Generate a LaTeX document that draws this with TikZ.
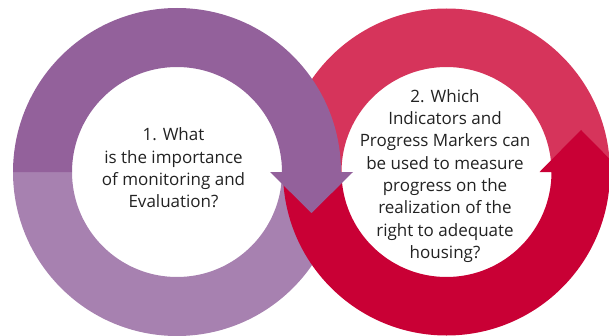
\documentclass[tikz,border=0pt]{standalone}
\usepackage{fontspec}
\setmainfont{Open Sans}
\usetikzlibrary{calc}
\definecolor{darkpurple}{HTML}{93619B}
\definecolor{lightpurple}{HTML}{A781B0}
\definecolor{lightred}{HTML}{D6345B}
\definecolor{darkred}{HTML}{C90035}
\definecolor{textgray}{HTML}{222222}
\tikzset{
  question/.style={
      align=center,
      text=textgray,
      font=\fontsize{17}{22.3}\selectfont,
  }
}

\begin{document}
\begin{tikzpicture}[x=1pt,y=1pt]
	\useasboundingbox (0,0) rectangle (609,335);
	\clip (0,0) rectangle (609,335);
	\coordinate (lc) at (177,163);
	\coordinate (rc) at (446.5,163);
	% left ring, lower half
	\fill[lightpurple] ($(lc)+(-164,0)$) arc[start angle=180,end angle=360,radius=164]
		-- ($(lc)+(105,0)$) arc[start angle=360,end angle=180,radius=105] -- cycle;
	% right ring, upper half
	\fill[lightred] ($(rc)+(163.5,0)$) arc[start angle=0,end angle=180,radius=163.5]
		-- ($(rc)+(-105,0)$) arc[start angle=180,end angle=0,radius=105] -- cycle;
	% right ring, lower half with arrow
	\fill[darkred] ($(rc)+(-163.5,0)$) arc[start angle=180,end angle=360,radius=163.5]
		-- ($(rc)+(176,0)$) -- ($(rc)+(134.5,42)$) -- ($(rc)+(93,0)$)
		-- ($(rc)+(105,0)$) arc[start angle=360,end angle=180,radius=105] -- cycle;
	% left ring, upper half with arrow
	\fill[darkpurple] ($(lc)+(-164,0)$) arc[start angle=180,end angle=0,radius=164]
		-- ($(lc)+(176,0)$) -- ($(lc)+(134.5,-41)$) -- ($(lc)+(93,0)$)
		-- ($(lc)+(105,0)$) arc[start angle=0,end angle=180,radius=105] -- cycle;
	\node[question] (q1) at (173.5,167) {1. What\\is the importance\\of monitoring and\\Evaluation?};
	\node[question] (q2) at (445,159) {2. Which\\Indicators and\\Progress Markers can\\be used to measure\\progress on the\\realization of the\\right to adequate\\housing?};
\end{tikzpicture}
\end{document}
